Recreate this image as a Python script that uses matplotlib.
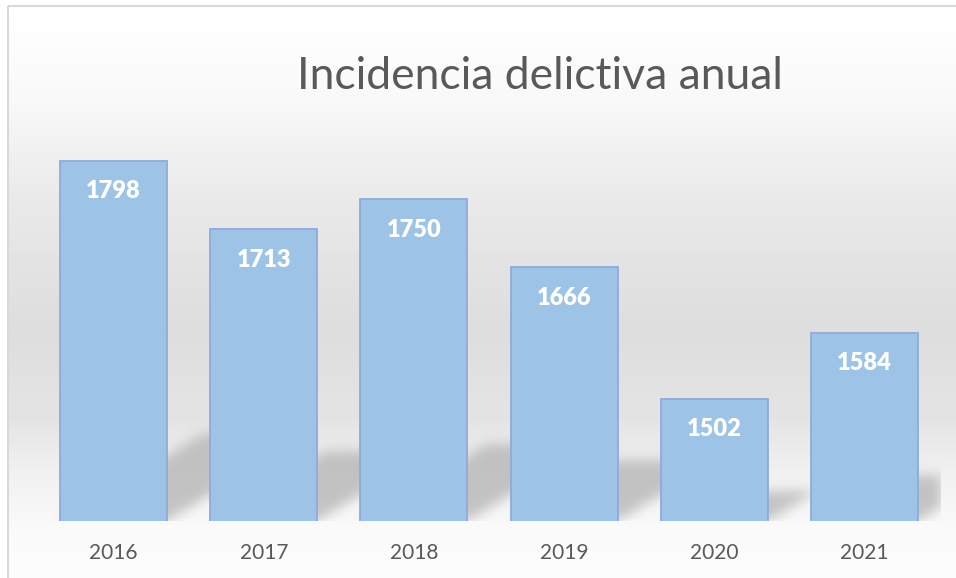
import numpy as np
import matplotlib.pyplot as plt
from matplotlib.patches import Rectangle

# data
years = ["2016", "2017", "2018", "2019", "2020", "2021"]
incidencia = [1798, 1713, 1750, 1666, 1502, 1584]

y_min, y_max = 1350, 1850
bar_w = 0.713

fig = plt.figure(figsize=(9.56, 5.78), dpi=100)

# background gradient (white -> light gray -> white)
bg = fig.add_axes([0, 0, 1, 1], zorder=-5)
rows = np.arange(578)
stops_y = [6, 100, 200, 330, 420, 470, 530, 578]
stops_v = [255, 248, 233, 221, 228, 240, 250, 252]
col = np.interp(rows, stops_y, stops_v) / 255.0
grad = np.repeat(col[:, None], 956, axis=1)
grad[:6, :] = 1.0
grad[:, :8] = 1.0
bg.imshow(grad, cmap="gray", vmin=0, vmax=1, extent=[0, 956, 578, 0], aspect="auto")
bg.add_patch(Rectangle((8, 6), 1000, 700, fill=False, edgecolor="#d9d9d9", lw=1.5))
bg.set_xlim(0, 956)
bg.set_ylim(578, 0)
bg.axis("off")

ax = fig.add_axes([0.0403, 0.0986, 0.9425, 0.6955])
ax.patch.set_alpha(0)
x = np.arange(len(years))

# soft shadows behind the bars
nx, ny = 901, 402
gx = np.linspace(-0.5, 5.5, nx)
gy = np.linspace(y_min, y_max, ny)
GX, GY = np.meshgrid(gx, gy)
mask = np.zeros_like(GX)
for xi, v in zip(x, incidencia):
    h = v - y_min
    H = 0.24 * h
    dx = 0.0021 * h
    t = (GY - y_min) / H
    inside = (t >= 0) & (t <= 1)
    xs = GX - dx * t
    inside &= (xs >= xi - bar_w / 2) & (xs <= xi + bar_w / 2)
    mask = np.maximum(mask, inside.astype(float))
k = np.exp(-0.5 * (np.arange(-18, 19) / 6.0) ** 2)
k /= k.sum()
mask = np.apply_along_axis(lambda r: np.convolve(r, k, mode="same"), 1, mask)
mask = np.apply_along_axis(lambda c: np.convolve(c, k, mode="same"), 0, mask)
shadow = np.zeros((ny, nx, 4))
shadow[..., :3] = 0.70
shadow[..., 3] = mask * 0.75
ax.imshow(shadow, extent=[-0.5, 5.5, y_min, y_max], origin="lower", aspect="auto", zorder=1)

bars = ax.bar(x, incidencia, width=bar_w, bottom=0, color="#9dc3e6",
              edgecolor="#8faadc", linewidth=1.3, zorder=2)

for xi, v in zip(x, incidencia):
    ax.annotate(str(v), (xi, v), xytext=(0, -22), textcoords="offset points",
                ha="center", va="center", color="white", fontsize=17,
                fontweight="heavy", family="Lato", zorder=3)

ax.set_xlim(-0.5, 5.5)
ax.set_ylim(y_min, y_max)
ax.set_xticks(x)
ax.set_xticklabels(years, fontsize=15, color="#595959", family="Lato")
ax.tick_params(axis="x", length=0, pad=16)
ax.set_yticks([])
for s in ax.spines.values():
    s.set_visible(False)

fig.text(0.565, 0.868, "Incidencia delictiva anual", ha="center", va="center",
         fontsize=32, color="#595959", family="Lato")

fig.savefig("out.png", dpi=100)
